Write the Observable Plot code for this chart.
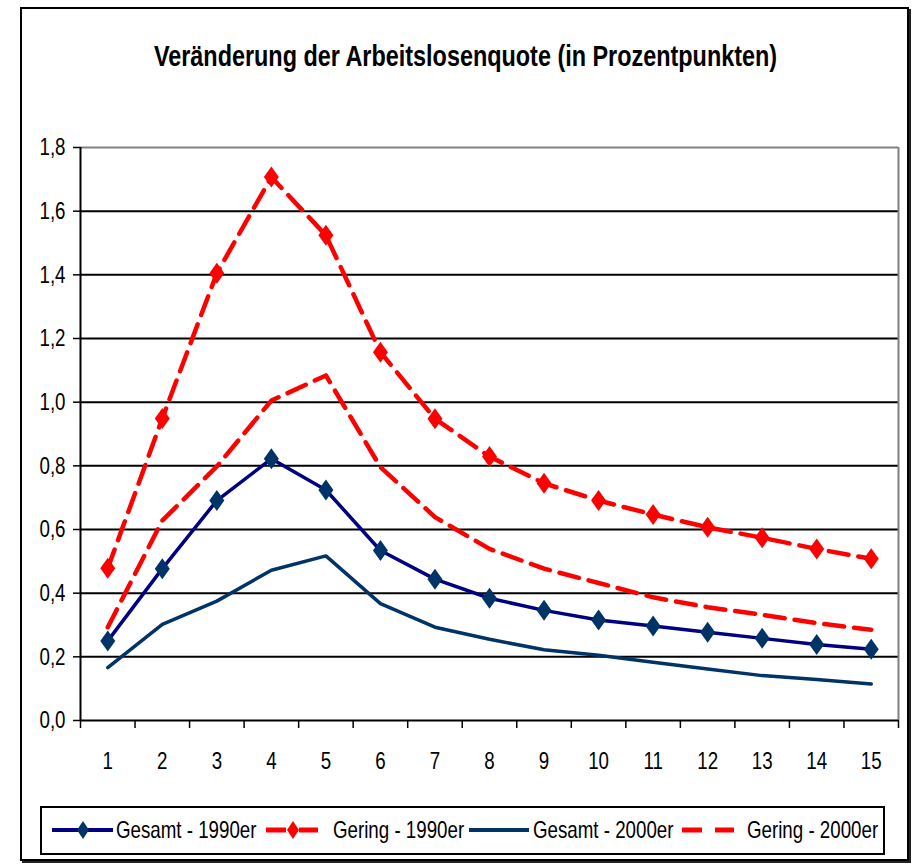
<!DOCTYPE html>
<html>
<head>
<meta charset="utf-8">
<script src="https://cdn.jsdelivr.net/npm/d3@7"></script>
<script src="https://cdn.jsdelivr.net/npm/@observablehq/plot@0.6"></script>
<style>
  body { margin:0; background:#fff; width:912px; height:865px; position:relative; overflow:hidden;
         font-family:"Liberation Sans",Arial,sans-serif; }
  #frame { position:absolute; left:20px; top:7px; width:889px; height:854px; border:2px solid #000;
           box-sizing:border-box; box-shadow:2px 2px 0 #222; }
  #title { position:absolute; left:20px; width:890px; top:38px; text-align:center; font-weight:bold;
           font-size:30px; line-height:36px; color:#000; }
  #title span { display:inline-block; transform:scaleX(0.78); transform-origin:center; white-space:nowrap; }
  #chart { position:absolute; left:0; top:100px; }
  #legend { position:absolute; left:40px; top:806px; width:845px; height:49px; border:2px solid #000;
            box-sizing:border-box; background:#fff; }
  #legend span { position:absolute; top:0; line-height:44px; font-size:24px; color:#000; white-space:nowrap;
                 transform:scaleX(0.78); transform-origin:left center; }
  #legend svg { position:absolute; left:0; top:0; }
</style>
</head>
<body>
<div id="frame"></div>
<div id="title"><span>Veränderung der Arbeitslosenquote (in Prozentpunkten)</span></div>
<div id="chart"></div>
<div id="legend"></div>
<script>
const periods = [1,2,3,4,5,6,7,8,9,10,11,12,13,14,15];
const gesamt1990 = [0.250,0.477,0.691,0.822,0.724,0.534,0.444,0.384,0.346,0.316,0.297,0.277,0.258,0.239,0.224];
const gering1990 = [0.478,0.949,1.405,1.707,1.524,1.157,0.948,0.829,0.745,0.691,0.647,0.607,0.574,0.539,0.508];
const gesamt2000 = [0.166,0.302,0.375,0.472,0.517,0.367,0.293,0.255,0.222,0.205,0.183,0.162,0.141,0.129,0.115];
const gering2000 = [0.293,0.628,0.798,1.005,1.084,0.796,0.639,0.539,0.477,0.432,0.387,0.356,0.332,0.306,0.285];
const seriesNames = ["Gesamt - 1990er","Gering - 1990er","Gesamt - 2000er","Gering - 2000er"];
const yTicks = [0,0.2,0.4,0.6,0.8,1.0,1.2,1.4,1.6,1.8];
const gridLines = [0.2,0.4,0.6,0.8,1.0,1.2,1.4,1.6];
const xBounds = [0.5,1.5,2.5,3.5,4.5,5.5,6.5,7.5,8.5,9.5,10.5,11.5,12.5,13.5,14.5,15.5];

const fmt = d => d.toFixed(1).replace(".", ",");
const tallDiamond = { draw(ctx) { ctx.moveTo(0,-10.5); ctx.lineTo(7.5,0); ctx.lineTo(0,10.5); ctx.lineTo(-7.5,0); ctx.closePath(); } };
const FONT = '"Liberation Sans",Arial,sans-serif';

const chart = Plot.plot({
  width: 912, height: 690,
  marginLeft: 80, marginRight: 14, marginTop: 47, marginBottom: 70,
  x: {domain: [0.5, 15.5], axis: null},
  y: {domain: [0, 1.8], axis: null},
  style: {fontFamily: FONT, fontSize: "24px", color: "#000", background: "transparent", overflow: "visible"},
  marks: [
    Plot.ruleY(gridLines, {stroke: "#000", strokeWidth: 2}),
    Plot.ruleY([1.8], {stroke: "#808080", strokeWidth: 2}),
    Plot.ruleX([15.5], {stroke: "#808080", strokeWidth: 2}),
    Plot.ruleX([0.5], {stroke: "#000", strokeWidth: 2}),
    Plot.ruleY([0], {stroke: "#000", strokeWidth: 2}),
    Plot.axisY({ticks: yTicks, tickSize: 7, tickPadding: 8, tickFormat: fmt, fontSize: 24, strokeWidth: 1.5, stroke: "#000"}),
    Plot.axisX({ticks: xBounds, tickSize: 8, tickFormat: () => "", strokeWidth: 1.5, stroke: "#000"}),
    Plot.axisX({ticks: periods, tickSize: 0, tickPadding: 31, tickFormat: d => String(d), fontSize: 24}),
    Plot.line(periods, {x: periods, y: gesamt2000, stroke: "#003366", strokeWidth: 3.5}),
    Plot.line(periods, {x: periods, y: gering2000, stroke: "#ff0000", strokeWidth: 4.5, strokeDasharray: "20,10"}),
    Plot.line(periods, {x: periods, y: gesamt1990, stroke: "#000080", strokeWidth: 3.5}),
    Plot.line(periods, {x: periods, y: gering1990, stroke: "#ff0000", strokeWidth: 4.5, strokeDasharray: "20,10"}),
    Plot.dot(periods, {x: periods, y: gesamt1990, symbol: tallDiamond, fill: "#003366", stroke: "none"}),
    Plot.dot(periods, {x: periods, y: gering1990, symbol: tallDiamond, fill: "#ff0000", stroke: "none"})
  ]
});
document.getElementById("chart").appendChild(chart);
// narrow the axis labels to mimic a condensed face
chart.querySelectorAll("text").forEach(t => {
  const len = t.getComputedTextLength();
  if (len > 0) { t.setAttribute("textLength", (len * 0.78).toFixed(2)); t.setAttribute("lengthAdjust", "spacingAndGlyphs"); }
});

// Legend
const leg = document.getElementById("legend");
const ns = "http://www.w3.org/2000/svg";
const sw = document.createElementNS(ns, "svg");
sw.setAttribute("width", 841); sw.setAttribute("height", 45);
const cy = 22;
function el(tag, attrs) { const e = document.createElementNS(ns, tag); for (const k in attrs) e.setAttribute(k, attrs[k]); sw.appendChild(e); return e; }
function diamond(cx, fill) { el("path", {d: `M${cx},${cy-9}L${cx+6},${cy}L${cx},${cy+9}L${cx-6},${cy}Z`, fill}); }
el("line", {x1: 10, x2: 71, y1: cy, y2: cy, stroke: "#000080", "stroke-width": 4});
diamond(41, "#003366");
el("line", {x1: 224, x2: 244, y1: cy, y2: cy, stroke: "#ff0000", "stroke-width": 5});
el("line", {x1: 257, x2: 276, y1: cy, y2: cy, stroke: "#ff0000", "stroke-width": 5});
diamond(251, "#ff0000");
el("line", {x1: 427, x2: 487, y1: cy, y2: cy, stroke: "#003366", "stroke-width": 4});
el("line", {x1: 640, x2: 660, y1: cy, y2: cy, stroke: "#ff0000", "stroke-width": 5});
el("line", {x1: 673, x2: 692, y1: cy, y2: cy, stroke: "#ff0000", "stroke-width": 5});
leg.appendChild(sw);
const textLeft = [74, 291, 491, 705];
seriesNames.forEach((n, i) => {
  const s = document.createElement("span");
  s.textContent = n; s.style.left = textLeft[i] + "px";
  leg.appendChild(s);
});
</script>
</body>
</html>
